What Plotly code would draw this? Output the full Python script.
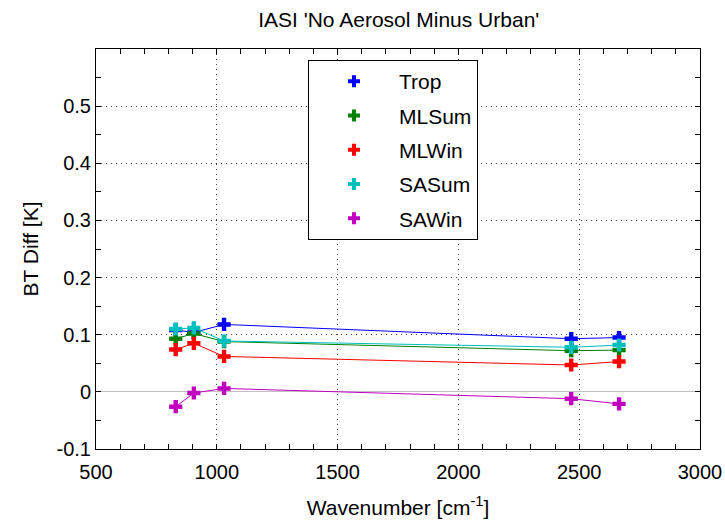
import plotly.graph_objects as go

wavenumber = [830, 905, 1030, 2467, 2665]
trop = [0.108, 0.104, 0.118, 0.093, 0.095]
mlsum = [0.093, 0.102, 0.088, 0.072, 0.073]
mlwin = [0.074, 0.085, 0.062, 0.047, 0.053]
sasum = [0.110, 0.112, 0.089, 0.078, 0.082]
sawin = [-0.026, -0.002, 0.006, -0.012, -0.021]

names = ["Trop", "MLSum", "MLWin", "SASum", "SAWin"]
series = [trop, mlsum, mlwin, sasum, sawin]
colors = ["#0000ff", "#008000", "#ff0000", "#00bfbf", "#bf00bf"]

x_ticks = [500, 1000, 1500, 2000, 2500, 3000]
y_ticks = [-0.1, 0, 0.1, 0.2, 0.3, 0.4, 0.5]
y_labels = ["-0.1", "0", "0.1", "0.2", "0.3", "0.4", "0.5"]

FONT = "Liberation Sans, Arial, sans-serif"

fig = go.Figure()
for i, (nm, ys, c) in enumerate(zip(names, series, colors)):
    fig.add_trace(go.Scatter(
        x=wavenumber, y=ys, mode="lines+markers", showlegend=False,
        line=dict(color=c, width=1),
        marker=dict(symbol="cross", size=11, color=c, line=dict(width=0)),
    ))
    fig.add_trace(go.Scatter(
        x=[None], y=[None], mode="markers", name=nm, legendgroup=nm,
        marker=dict(symbol="cross", size=10, color=c, line=dict(width=0)),
    ))

axis_common = dict(
    showline=True, linecolor="#000000", linewidth=1, mirror="ticks",
    ticks="inside", ticklen=5, tickcolor="#000000", tickwidth=1,
    showgrid=True, gridcolor="#444444", gridwidth=1, griddash="1px,4px",
    tickfont=dict(family=FONT, size=20, color="#000000"),
    automargin=False,
)

fig.update_xaxes(
    range=[500, 3000], tickvals=x_ticks, ticktext=[str(v) for v in x_ticks],
    minor=dict(dtick=100, tick0=500, ticks="inside", ticklen=5,
               tickcolor="#000000", showgrid=False),
    zeroline=False, ticklabelstandoff=5,
    title=dict(text="Wavenumber [cm<sup>-1</sup>]",
               font=dict(family=FONT, size=21, color="#000000"), standoff=18),
    **axis_common,
)
fig.update_yaxes(
    range=[-0.1, 0.6], tickvals=y_ticks, ticktext=y_labels,
    minor=dict(dtick=0.05, tick0=0, ticks="inside", ticklen=5,
               tickcolor="#000000", showgrid=False),
    zeroline=True, zerolinecolor="#c0c0c0", zerolinewidth=1,
    title=dict(text="BT Diff [K]",
               font=dict(family=FONT, size=21, color="#000000"), standoff=12),
    **axis_common,
)

fig.update_layout(
    width=725, height=525,
    margin=dict(l=96, r=25, t=49, b=76),
    paper_bgcolor="#ffffff", plot_bgcolor="#ffffff",
    title=dict(text="IASI 'No Aerosol Minus Urban'", x=0.55, xanchor="center",
               y=0.962, yanchor="middle",
               font=dict(family=FONT, size=21, color="#000000")),
    legend=dict(
        x=0.351, y=0.9725, xanchor="left", yanchor="top",
        bgcolor="#ffffff", bordercolor="#000000", borderwidth=1,
        font=dict(family=FONT, size=21, color="#000000"),
        traceorder="grouped", tracegroupgap=4, itemwidth=80,
    ),
    font=dict(family=FONT),
)

fig.write_html("out.html")
